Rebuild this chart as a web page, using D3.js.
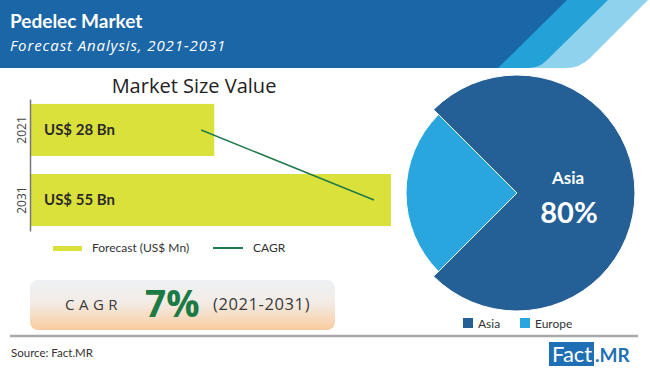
<!DOCTYPE html>
<html>
  <head>
    <meta charset="UTF-8" />
    <script src="https://cdnjs.cloudflare.com/ajax/libs/d3/7.8.5/d3.min.js"></script>
    <style>
      body { margin: 0; background: #fff; }
      text { font-family: "Lato", "Open Sans", sans-serif; }
      .gothic { font-family: "Open Sans", "DejaVu Sans", sans-serif; }
      .axis path.domain { stroke: #777; stroke-width: 1.5; }
      .axis text { fill: #444; font-size: 12px; font-family: "Open Sans", sans-serif; }
    </style>
  </head>
  <body>
    <svg id="chart" width="650" height="370"></svg>
    <script>
      // chart values
      const years = ["2021", "2031"];
      const marketValues = [28, 55];
      const valueLabels = ["US$ 28 Bn", "US$ 55 Bn"];
      const cagrPoints = [26, 52.4];
      const legendItems = ["Forecast (US$ Mn)", "CAGR"];
      const cagrText = ["CAGR", "7%", "(2021-2031)"];
      const regions = ["Asia", "Europe"];
      const regionShares = [75, 25];
      const highlightText = ["Asia", "80%"];

      const svg = d3.select("#chart");

      // header band
      const header = svg.append("g");
      header.append("path")
        .attr("d", "M555,0 L648,0 L590,58 Q580,68 566,68 L480,68 Z")
        .attr("fill", "#8fd2ee");
      header.append("path")
        .attr("d", "M555,0 L608,0 L546,61 Q539,68 528,68 L480,68 Z")
        .attr("fill", "#23a2d8");
      header.append("path")
        .attr("d", "M0,0 L567,0 L498,68 L0,68 Z")
        .attr("fill", "#1b66a6");
      header.append("text")
        .attr("x", 10).attr("y", 28)
        .attr("fill", "#fff")
        .style("font-size", "19px").style("font-weight", "bold")
        .text("Pedelec Market");
      header.append("text")
        .attr("x", 10).attr("y", 51)
        .attr("fill", "#fff")
        .style("font-size", "15px").style("font-style", "italic").style("letter-spacing", "0.9px")
        .attr("class", "gothic")
        .text("Forecast Analysis, 2021-2031");

      // bar chart
      const xScale = d3.scaleLinear().domain([0, 55]).range([31, 391]);
      const yScale = d3.scaleBand()
        .domain(years)
        .range([99, 231])
        .paddingInner(0.257)
        .paddingOuter(0.07);

      svg.append("text")
        .attr("x", 194).attr("y", 93)
        .attr("text-anchor", "middle")
        .attr("fill", "#222")
        .attr("class", "gothic")
        .style("font-size", "20px")
        .text("Market Size Value");

      svg.selectAll("rect.bar")
        .data(marketValues)
        .enter()
        .append("rect")
        .attr("class", "bar")
        .attr("x", xScale(0))
        .attr("y", (d, i) => yScale(years[i]))
        .attr("width", d => xScale(d) - xScale(0))
        .attr("height", yScale.bandwidth())
        .style("fill", "#dbe13b");

      svg.selectAll("text.barlabel")
        .data(valueLabels)
        .enter()
        .append("text")
        .attr("class", "barlabel")
        .attr("x", 44)
        .attr("y", (d, i) => yScale(years[i]) + yScale.bandwidth() / 2 + 5)
        .attr("fill", "#2b2b2b")
        .style("font-size", "15px").style("font-weight", "bold")
        .text(d => d);

      const yAxis = d3.axisLeft(yScale).tickSize(0);
      const axisG = svg.append("g")
        .attr("class", "axis")
        .attr("transform", "translate(30,0)")
        .call(yAxis);
      axisG.selectAll(".tick text")
        .attr("transform", "rotate(-90)")
        .attr("x", 0).attr("y", -4)
        .attr("dy", "0")
        .style("text-anchor", "middle");

      const line = d3.line()
        .x(d => xScale(d))
        .y((d, i) => yScale(years[i]) + yScale.bandwidth() / 2);
      svg.append("path")
        .attr("d", line(cagrPoints))
        .attr("fill", "none")
        .attr("stroke", "#1f7a4c")
        .attr("stroke-width", 1.5);

      // bar legend
      svg.append("rect").attr("x", 53).attr("y", 246).attr("width", 29).attr("height", 5).style("fill", "#dbe13b");
      svg.append("text").attr("x", 92).attr("y", 252).style("font-size", "12px").attr("fill", "#333").text(legendItems[0]);
      svg.append("line").attr("x1", 213).attr("x2", 243).attr("y1", 248).attr("y2", 248).attr("stroke", "#1f7a4c").attr("stroke-width", 2);
      svg.append("text").attr("x", 253).attr("y", 252).style("font-size", "12px").attr("fill", "#333").text(legendItems[1]);

      // CAGR box
      const defs = svg.append("defs");
      const grad = defs.append("linearGradient").attr("id", "cagrGrad").attr("x1", 0).attr("x2", 0).attr("y1", 0).attr("y2", 1);
      grad.append("stop").attr("offset", "0%").attr("stop-color", "#edf1f4");
      grad.append("stop").attr("offset", "45%").attr("stop-color", "#f3ece6");
      grad.append("stop").attr("offset", "100%").attr("stop-color", "#f9cc9f");

      svg.append("rect")
        .attr("x", 30).attr("y", 280).attr("width", 305).attr("height", 50)
        .attr("rx", 8)
        .style("fill", "url(#cagrGrad)");
      svg.append("text")
        .attr("x", 65).attr("y", 310)
        .attr("class", "gothic")
        .attr("fill", "#3a3a3a")
        .style("font-size", "15px").style("letter-spacing", "4.5px")
        .text(cagrText[0]);
      svg.append("text")
        .attr("x", 145).attr("y", 317)
        .attr("fill", "#1c7a45")
        .attr("class", "gothic")
        .style("font-size", "37px").style("font-weight", "bold")
        .text(cagrText[1]);
      svg.append("text")
        .attr("x", 213).attr("y", 310)
        .attr("fill", "#3a3a3a")
        .attr("class", "gothic")
        .style("font-size", "16.5px").style("letter-spacing", "0.6px")
        .text(cagrText[2]);

      // separator and source
      svg.append("line")
        .attr("x1", 10).attr("x2", 638).attr("y1", 336).attr("y2", 336)
        .attr("stroke", "#a9a9a9").attr("stroke-width", 2.5);
      svg.append("text")
        .attr("x", 11).attr("y", 357)
        .attr("fill", "#333")
        .style("font-size", "11.5px")
        .text("Source: Fact.MR");

      // pie
      const pieColors = d3.scaleOrdinal().domain(regions).range(["#245f96", "#29a6de"]);
      const radii = [118, 111];
      const pie = d3.pie().sort(null).startAngle(-Math.PI / 4).endAngle(-Math.PI / 4 + 2 * Math.PI);
      const pieData = pie(regionShares);
      const pieG = svg.append("g").attr("transform", "translate(517,193)");
      pieG.selectAll("path")
        .data(pieData)
        .enter()
        .append("path")
        .attr("d", (d, i) => d3.arc().innerRadius(0).outerRadius(radii[i])(d))
        .attr("fill", (d, i) => pieColors(regions[i]))
        .attr("stroke", "#fff")
        .attr("stroke-width", 1);
      pieG.append("text")
        .attr("x", 51).attr("y", -9)
        .attr("text-anchor", "middle")
        .attr("fill", "#fff")
        .style("font-size", "17px").style("font-weight", "bold")
        .text(highlightText[0]);
      pieG.append("text")
        .attr("x", 52).attr("y", 30)
        .attr("text-anchor", "middle")
        .attr("fill", "#fff")
        .style("font-size", "29px").style("font-weight", "bold")
        .text(highlightText[1]);

      // pie legend
      const pieLegendX = [463, 520];
      const pl = svg.selectAll("g.plegend")
        .data(regions)
        .enter()
        .append("g")
        .attr("class", "plegend")
        .attr("transform", (d, i) => `translate(${pieLegendX[i]},318)`);
      pl.append("rect").attr("width", 10).attr("height", 10).attr("fill", d => pieColors(d));
      pl.append("text").attr("x", 15).attr("y", 9.5).style("font-size", "12px").attr("fill", "#333").text(d => d);

      // logo
      svg.append("rect").attr("x", 549).attr("y", 342).attr("width", 45).attr("height", 24).attr("fill", "#1f6fb4");
      svg.append("text").attr("x", 552).attr("y", 362).attr("fill", "#fff").style("font-size", "22px").text("Fact");
      svg.append("text").attr("x", 595).attr("y", 362).attr("fill", "#1f6fb4").style("font-size", "19px").style("font-weight", "bold").text(".MR");
    </script>
  </body>
</html>
